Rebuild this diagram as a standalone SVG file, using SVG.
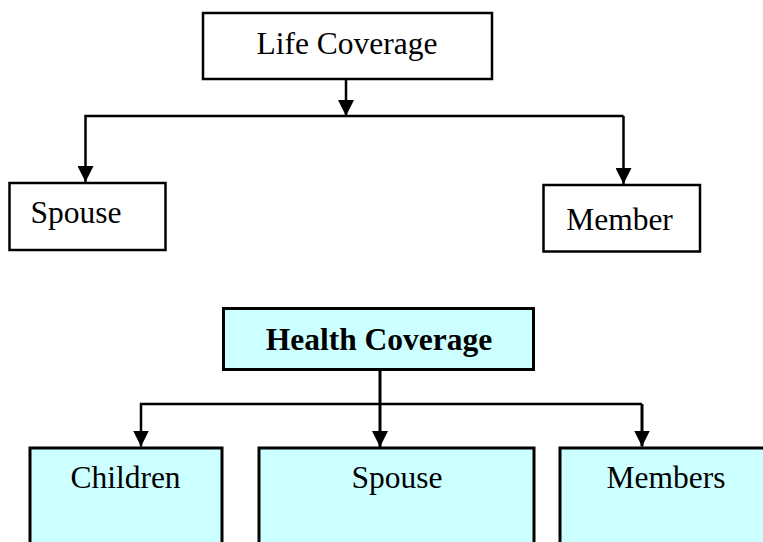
<svg xmlns="http://www.w3.org/2000/svg" width="763" height="542" viewBox="0 0 763 542">
<style>
.box{fill:#ffffff;stroke:#000;stroke-width:2.5}
.hbox{fill:#CCFFFF;stroke:#000;stroke-width:3}
.t{font-family:"Liberation Serif","Times New Roman",serif;font-size:31.5px;fill:#000;text-anchor:middle}
.b{font-weight:bold}
.c{fill:none;stroke:#000;stroke-width:2.5}
.c2{fill:none;stroke:#000;stroke-width:3}
</style>
<defs>
<marker id="ah" markerUnits="userSpaceOnUse" markerWidth="16" markerHeight="16" viewBox="0 0 16 16" refX="16" refY="8" orient="auto">
<path d="M0,0 L16,8 L0,16 Z" fill="#000"/>
</marker>
</defs>
<g id="connectors">
<line class="c" x1="346" y1="79" x2="346" y2="116" marker-end="url(#ah)"/>
<polyline class="c" points="623.5,116 85.5,116 85.5,182" marker-end="url(#ah)"/>
<line class="c" x1="623.5" y1="116" x2="623.5" y2="184" marker-end="url(#ah)"/>
<line class="c2" x1="380" y1="369" x2="380" y2="447" marker-end="url(#ah)"/>
<polyline class="c" points="642,404 141,404 141,446.5" marker-end="url(#ah)"/>
<line class="c2" x1="642" y1="404" x2="642" y2="446.5" marker-end="url(#ah)"/>
</g>
<g id="life-coverage">
<rect class="box" x="203" y="13" width="289" height="66"/>
<text class="t" x="347" y="54">Life Coverage</text>
</g>
<g id="life-spouse">
<rect class="box" x="9.5" y="183" width="156" height="67"/>
<text class="t" x="76" y="223">Spouse</text>
</g>
<g id="life-member">
<rect class="box" x="543.5" y="185" width="156.5" height="66.5"/>
<text class="t" x="619.5" y="230">Member</text>
</g>
<g id="health-coverage">
<rect class="hbox" x="223.5" y="308.5" width="310" height="61"/>
<text class="t b" x="379" y="350">Health Coverage</text>
</g>
<g id="health-children">
<rect class="hbox" x="30" y="448" width="192" height="120"/>
<text class="t" x="125.5" y="488">Children</text>
</g>
<g id="health-spouse">
<rect class="hbox" x="259" y="448" width="275" height="120"/>
<text class="t" x="397" y="488">Spouse</text>
</g>
<g id="health-members">
<rect class="hbox" x="560" y="448" width="230" height="120"/>
<text class="t" x="666" y="488">Members</text>
</g>
</svg>
